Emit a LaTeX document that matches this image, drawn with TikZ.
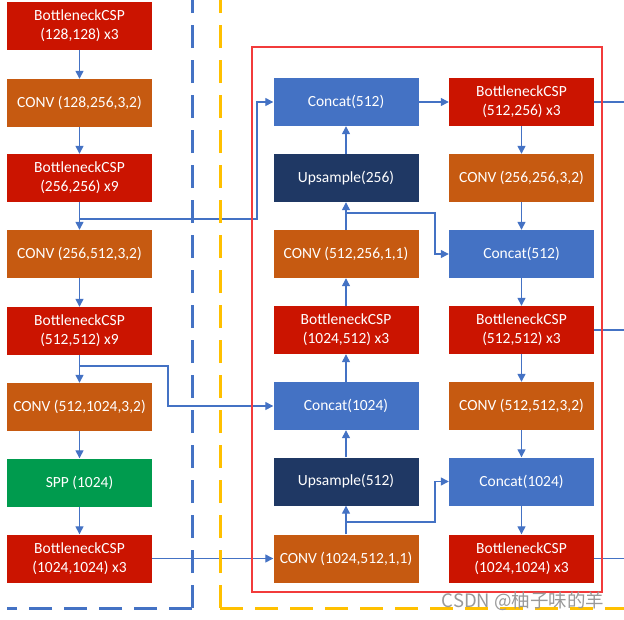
\documentclass[tikz,border=0pt]{standalone}
\usepackage{fontspec}
\setmainfont{Carlito}
\newfontfamily\cjkfont{Noto Sans CJK SC}
\usetikzlibrary{arrows.meta}

\definecolor{cspred}{HTML}{CB1400}
\definecolor{convorange}{HTML}{C65A11}
\definecolor{sppgreen}{HTML}{009B4E}
\definecolor{catblue}{HTML}{4472C4}
\definecolor{upnavy}{HTML}{1F3864}
\definecolor{linkblue}{HTML}{4472C4}
\definecolor{neckyellow}{HTML}{FFC000}
\definecolor{headred}{HTML}{F23B3B}

\begin{document}
\begin{tikzpicture}[x=1pt,y=-1pt,
    >={Triangle[length=8pt,width=8pt]},
    blk/.style={minimum width=145pt,minimum height=48pt,inner sep=0pt,
        text=white,align=center,font=\fontsize{15.5}{19}\selectfont},
    csp/.style={blk,fill=cspred},
    conv/.style={blk,fill=convorange},
    cat/.style={blk,fill=catblue},
    upsm/.style={blk,fill=upnavy},
    link/.style={line width=1.3pt,draw=linkblue},
    part/.style={line width=3pt,dash pattern=on 23pt off 12pt}]
    \useasboundingbox (0,0) rectangle (624,619);
    % Backbone
    \node[csp]  (b128)  at (79.5,25.5) {BottleneckCSP\\(128,128) x3};
    \node[conv] (c256)  at (79.5,103) {CONV (128,256,3,2)};
    \node[csp]  (b256)  at (79.5,178) {BottleneckCSP\\(256,256) x9};
    \node[conv] (c512)  at (79.5,254) {CONV (256,512,3,2)};
    \node[csp]  (b512)  at (79.5,331) {BottleneckCSP\\(512,512) x9};
    \node[conv] (c1024) at (79.5,407) {CONV (512,1024,3,2)};
    \node[blk,fill=sppgreen] (spp) at (79.5,482.5) {SPP (1024)};
    \node[csp]  (b1024) at (79.5,558.5) {BottleneckCSP\\(1024,1024) x3};
    % Neck, up path
    \node[cat]  (cat512a)  at (346,102) {Concat(512)};
    \node[upsm] (up256)    at (346,178) {Upsample(256)};
    \node[conv] (cv256)    at (346,254) {CONV (512,256,1,1)};
    \node[csp]  (b1024to512) at (346,330) {BottleneckCSP\\(1024,512) x3};
    \node[cat]  (cat1024a) at (346,406) {Concat(1024)};
    \node[upsm] (up512)    at (346,481.5) {Upsample(512)};
    \node[conv] (cv512)    at (346,558.5) {CONV (1024,512,1,1)};
    % Neck, down path
    \node[csp]  (b512to256) at (521.5,102) {BottleneckCSP\\(512,256) x3};
    \node[conv] (cv256b)    at (521.5,178) {CONV (256,256,3,2)};
    \node[cat]  (cat512b)   at (521.5,254) {Concat(512)};
    \node[csp]  (b512b)     at (521.5,330) {BottleneckCSP\\(512,512) x3};
    \node[conv] (cv512b)    at (521.5,406) {CONV (512,512,3,2)};
    \node[cat]  (cat1024b)  at (521.5,481.5) {Concat(1024)};
    \node[csp]  (b1024b)    at (521.5,558.5) {BottleneckCSP\\(1024,1024) x3};
    % Branch points
    \coordinate (j256) at (79.5,219);
    \coordinate (j512) at (79.5,366);
    \coordinate (jcv512) at (346,522);
    \coordinate (jcv256) at (346,213);
    % Backbone links
    \foreach \a/\b in {b128/c256,c256/b256,b256/c512,c512/b512,b512/c1024,c1024/spp,spp/b1024}
        \draw[link,->] (\a) -- (\b);
    \draw[link,->] (j256) -- (257,219) |- (cat512a.west);
    \draw[link,->] (j512) -- (168,366) |- (cat1024a.west);
    \draw[link,->] (b1024.east) -- (cv512.west);
    % Up path links
    \foreach \a/\b in {cv512/up512,up512/cat1024a,cat1024a/b1024to512,b1024to512/cv256,cv256/up256,up256/cat512a}
        \draw[link,->] (\a) -- (\b);
    \draw[link,->] (jcv512) -- (435,522) |- (cat1024b.west);
    \draw[link,->] (jcv256) -- (435,213) |- (cat512b.west);
    \draw[link,->] (cat512a) -- (b512to256);
    % Down path links
    \foreach \a/\b in {b512to256/cv256b,cv256b/cat512b,cat512b/b512b,b512b/cv512b,cv512b/cat1024b,cat1024b/b1024b}
        \draw[link,->] (\a) -- (\b);
    % Outputs
    \draw[link] (b512to256.east) -- (624,102);
    \draw[link] (b512b.east) -- (624,330);
    \draw[link] (b1024b.east) -- (624,558.5);
    % Parts
    \draw[part,draw=linkblue] (192,608) -- (192,0);
    \draw[part,draw=linkblue] (192,608) -- (7,608);
    \draw[part,draw=neckyellow] (220,608) -- (220,0);
    \draw[part,draw=neckyellow] (220,608) -- (624,608);
    \draw[headred,line width=2pt] (252,47) rectangle (602,592);
    % Watermark
    \node[text=black!40,font=\cjkfont\fontsize{18.5}{18.5}\selectfont] (mark) at (523,601) {CSDN @柚子味的羊};
\end{tikzpicture}
\end{document}
